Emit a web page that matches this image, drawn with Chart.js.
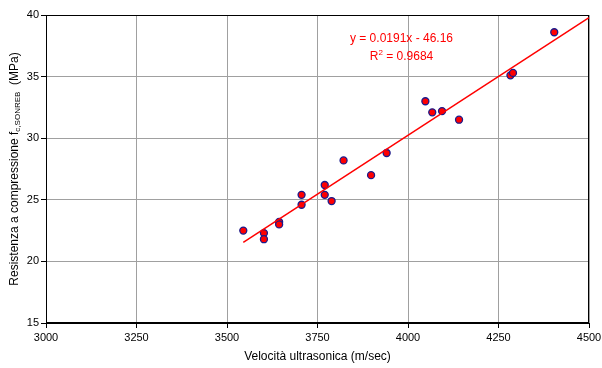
<!DOCTYPE html>
<html lang="it">
<head>
<meta charset="utf-8">
<script src="https://cdn.jsdelivr.net/npm/chart.js@4.4.1/dist/chart.umd.min.js"></script>
<style>
  html, body { margin: 0; padding: 0; background: #fff; }
  #wrap { width: 602px; height: 368px; }
</style>
</head>
<body>
<div id="wrap"><canvas id="c"></canvas></div>
<script>
// prove: velocità ultrasonica vs resistenza stimata SONREB
const VELOCITA   = [3545, 3602, 3602, 3644, 3644, 3706, 3706, 3770, 3770, 3789, 3822, 3898, 3941, 4048, 4067, 4094, 4141, 4283, 4290, 4404];
const RESISTENZA = [22.5, 22.3, 21.8, 23.2, 23.0, 25.4, 24.6, 26.2, 25.4, 24.9, 28.2, 27.0, 28.8, 33.0, 32.1, 32.2, 31.5, 35.1, 35.3, 38.6];
const X_TICKS = [3000, 3250, 3500, 3750, 4000, 4250, 4500];
const Y_TICKS = [15, 20, 25, 30, 35, 40];
// retta di regressione
const SLOPE = 0.0191, INTERCEPT = -46.16, R2 = 0.9684;
const TREND_X = [3545, 4500];

const FONT = 'Arial, "Liberation Sans", sans-serif';

const yTitle = {
  id: 'yTitle',
  afterDraw(chart) {
    const { ctx, chartArea } = chart;
    const cy = (chartArea.top + chartArea.bottom) / 2;
    const main = 'Resistenza a compressione f', sub = 'c,SONREB', tail = '  (MPa)';
    ctx.save();
    ctx.translate(15, cy);
    ctx.rotate(-Math.PI / 2);
    ctx.fillStyle = '#000';
    ctx.textBaseline = 'middle';
    ctx.font = '12px ' + FONT;
    const w1 = ctx.measureText(main).width, w3 = ctx.measureText(tail).width;
    ctx.font = '8px ' + FONT;
    const w2 = ctx.measureText(sub).width;
    let x = -(w1 + w2 + w3) / 2;
    ctx.font = '12px ' + FONT; ctx.fillText(main, x, 0); x += w1;
    ctx.font = '8px ' + FONT;  ctx.fillText(sub, x, 3); x += w2;
    ctx.font = '12px ' + FONT; ctx.fillText(tail, x, 0);
    ctx.restore();
  }
};

// cornice nera dell'area del grafico
const frame = {
  id: 'frame',
  beforeDatasetsDraw(chart) {
    const { ctx, chartArea: a } = chart;
    ctx.save();
    ctx.strokeStyle = '#000';
    ctx.lineWidth = 1;
    ctx.strokeRect(Math.round(a.left) + 0.5, Math.round(a.top) + 0.5,
                   Math.round(a.right - a.left) - 1, Math.round(a.bottom - a.top) - 1);
    ctx.restore();
  }
};

// equazione e R²
const equation = {
  id: 'equation',
  afterDraw(chart) {
    const { ctx, scales } = chart;
    const px = scales.x.getPixelForValue(3982);
    const py = scales.y.getPixelForValue(38.05);
    ctx.save();
    ctx.fillStyle = '#ff0000';
    ctx.textBaseline = 'middle';
    ctx.textAlign = 'left';
    ctx.font = '12px ' + FONT;
    const l1 = 'y = ' + SLOPE + 'x - ' + Math.abs(INTERCEPT).toFixed(2);
    ctx.fillText(l1, px - ctx.measureText(l1).width / 2, py);
    const tail = ' = ' + R2;
    const wR = ctx.measureText('R').width, wT = ctx.measureText(tail).width;
    ctx.font = '8px ' + FONT;
    const w2 = ctx.measureText('2').width;
    let x = px - (wR + w2 + wT) / 2;
    const y2 = py + 18;
    ctx.font = '12px ' + FONT; ctx.fillText('R', x, y2); x += wR;
    ctx.font = '8px ' + FONT;  ctx.fillText('2', x, y2 - 4); x += w2;
    ctx.font = '12px ' + FONT; ctx.fillText(tail, x, y2);
    ctx.restore();
  }
};

new Chart(document.getElementById('c'), {
  type: 'scatter',
  data: {
    datasets: [
      {
        label: 'Retta',
        type: 'line',
        data: TREND_X.map(x => ({ x, y: SLOPE * x + INTERCEPT })),
        borderColor: '#ff0000', borderWidth: 1.5,
        pointRadius: 0, fill: false, tension: 0
      },
      {
        label: 'Prove',
        data: VELOCITA.map((x, i) => ({ x, y: RESISTENZA[i] })),
        backgroundColor: '#ff0000', borderColor: '#1a1a8c',
        borderWidth: 1.3, pointRadius: 3.5
      }
    ]
  },
  options: {
    responsive: true, maintainAspectRatio: false, animation: false,
    layout: { padding: { top: 15, right: 13, left: 0, bottom: 0 } },
    plugins: { legend: { display: false }, tooltip: { enabled: false } },
    scales: {
      x: {
        type: 'linear', min: 3000, max: 4500,
        afterBuildTicks: s => { s.ticks = X_TICKS.map(v => ({ value: v })); },
        afterFit: s => { s.height = 45; s.paddingLeft = 0; s.paddingRight = 0; },
        grid: { color: '#a0a0a0', tickColor: '#000', tickLength: 5, lineWidth: 1 },
        border: { color: '#000', width: 1 },
        ticks: { color: '#000', font: { family: FONT, size: 11 }, padding: 3, maxRotation: 0,
                 callback: v => String(v) },
        title: { display: true, text: 'Velocità ultrasonica (m/sec)', color: '#000',
                 font: { family: FONT, size: 12 }, padding: { top: 0, bottom: 4 } }
      },
      y: {
        min: 15, max: 40,
        afterBuildTicks: s => { s.ticks = Y_TICKS.map(v => ({ value: v })); },
        afterFit: s => { s.width = 46; },
        grid: { color: '#a0a0a0', tickColor: '#000', tickLength: 5, lineWidth: 1 },
        border: { color: '#000', width: 1 },
        ticks: { color: '#000', font: { family: FONT, size: 11 }, padding: 2,
                 callback: v => String(v) }
      }
    }
  },
  plugins: [yTitle, frame, equation]
});
</script>
</body>
</html>
